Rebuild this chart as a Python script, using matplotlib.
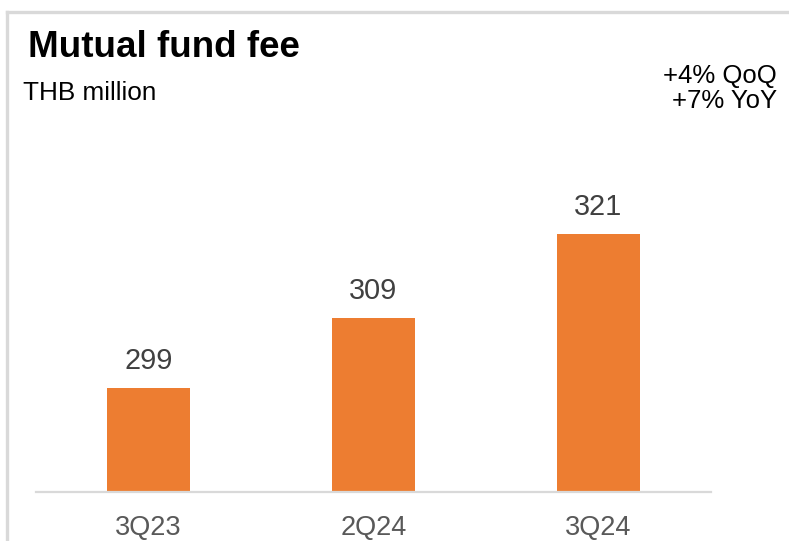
import matplotlib
matplotlib.use("Agg")
import matplotlib.pyplot as plt
from matplotlib.lines import Line2D

plt.rcParams['font.family'] = ['Liberation Sans', 'DejaVu Sans']

categories = ["3Q23", "2Q24", "3Q24"]
values = [299, 309, 321]
title = "Mutual fund fee"
unit = "THB million"
growth_notes = ["+4% QoQ", "+7% YoY"]

W, H = 789, 541
fig = plt.figure(figsize=(W / 100, H / 100), dpi=100)
fig.patch.set_facecolor("white")

# light grey panel frame (top and left edges)
frame_c = "#D9D9D9"
fig.add_artist(Line2D([6.5 / W, 1.0], [1 - 11.5 / H, 1 - 11.5 / H],
                      color=frame_c, lw=2.4, transform=fig.transFigure))
fig.add_artist(Line2D([6.5 / W, 6.5 / W], [0.0, 1 - 11.5 / H],
                      color=frame_c, lw=2.4, transform=fig.transFigure))

# plot area
ax_left, ax_right = 36 / W, 711 / W
ax_bottom = (H - 492) / H
ax_top = (H - 100) / H
ax = fig.add_axes([ax_left, ax_bottom, ax_right - ax_left, ax_top - ax_bottom])
ymin = 284.14
ax.set_ylim(ymin, ymin + 56)
ax.set_xlim(-0.5, len(categories) - 0.5)

x = range(len(categories))
ax.bar(x, [v - ymin for v in values], bottom=ymin, width=0.373,
       color="#ED7D31", zorder=2)

for xi, v in zip(x, values):
    ax.annotate(f"{v}", (xi, v), xytext=(0, 13.7), textcoords="offset points",
                ha="center", va="baseline", fontsize=20.8, color="#404040")

for spine in ax.spines.values():
    spine.set_visible(False)
ax.axhline(ymin, color=frame_c, lw=1.6, zorder=3, clip_on=False)
ax.set_yticks([])
ax.set_xticks(list(x))
ax.set_xticklabels(categories, fontsize=19.5, color="#595959")
for lbl in ax.get_xticklabels():
    lbl.set_verticalalignment("baseline")
ax.tick_params(axis="x", length=0, pad=31)
ax.patch.set_alpha(0)

# headings
fig.text(28 / W, 1 - 57 / H, title, fontsize=26.5, fontweight="bold",
         color="black", ha="left", va="baseline")
fig.text(23 / W, 1 - 100 / H, unit, fontsize=18.8, color="black",
         ha="left", va="baseline")
fig.text(777 / W, 1 - 83 / H, growth_notes[0], fontsize=18.5, color="black",
         ha="right", va="baseline")
fig.text(777 / W, 1 - 108 / H, growth_notes[1], fontsize=18.5, color="black",
         ha="right", va="baseline")

fig.savefig("out.png", dpi=100)
